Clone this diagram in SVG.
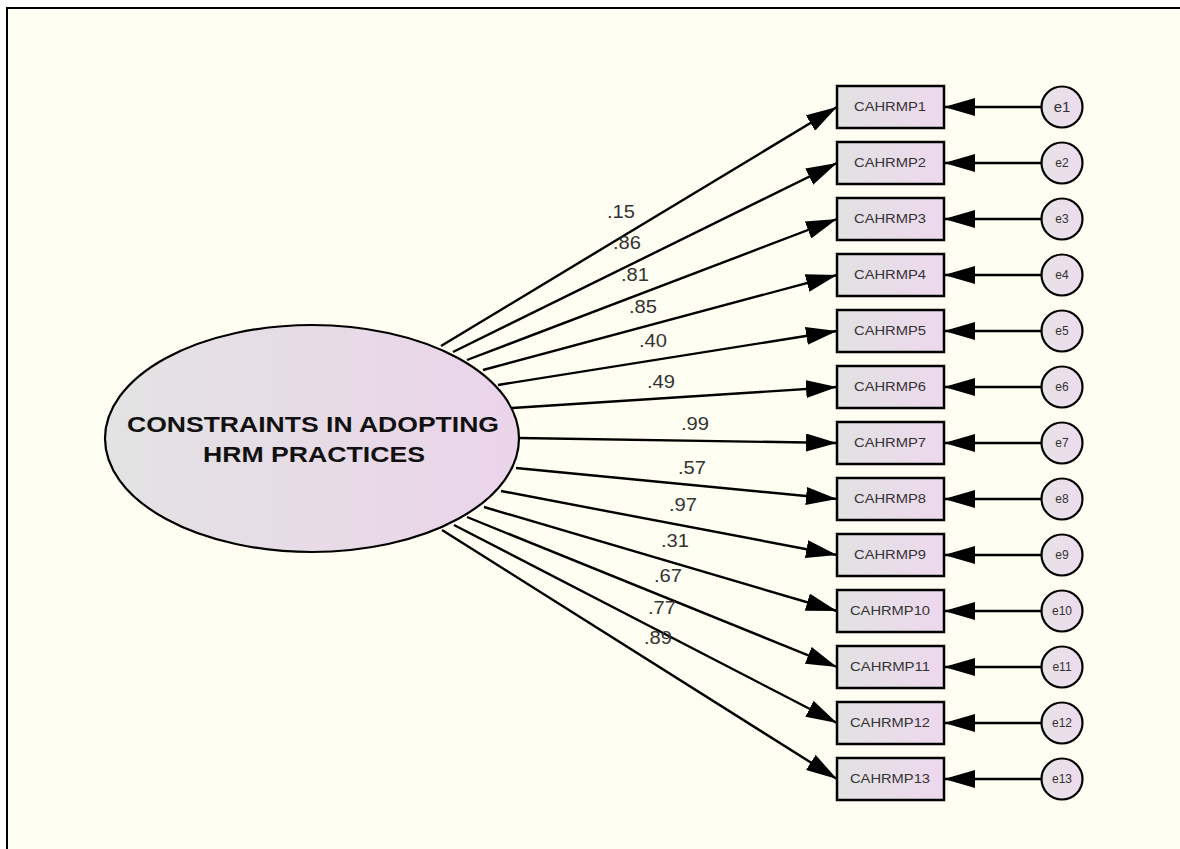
<svg xmlns="http://www.w3.org/2000/svg" width="1180" height="849" viewBox="0 0 1180 849">
<defs>
<linearGradient id="gEl" x1="0" y1="0" x2="1" y2="0">
<stop offset="0" stop-color="#e3e3e3"/><stop offset="1" stop-color="#ebd4ea"/>
</linearGradient>
<linearGradient id="gBox" x1="0" y1="0" x2="1" y2="0">
<stop offset="0" stop-color="#e2e2e2"/><stop offset="1" stop-color="#eed8ee"/>
</linearGradient>
<linearGradient id="gCir" x1="0" y1="0" x2="1" y2="0">
<stop offset="0" stop-color="#e6e2e6"/><stop offset="1" stop-color="#eedcee"/>
</linearGradient>
<marker id="ah" markerUnits="userSpaceOnUse" markerWidth="32" markerHeight="18" viewBox="0 0 32 18" refX="31" refY="9" orient="auto">
<path d="M0,0 L31,9 L0,18 Z" fill="#000"/>
</marker>
<style>
.c{stroke:#000;stroke-width:2.4;fill:none;marker-end:url(#ah)}
.box{fill:url(#gBox);stroke:#000;stroke-width:2.5}
.cir{fill:url(#gCir);stroke:#000;stroke-width:2.2}
.bt{font-family:"Liberation Sans",Arial,sans-serif;font-size:12px;fill:#333;text-anchor:middle}
.et{font-family:"Liberation Sans",Arial,sans-serif;font-size:12px;fill:#333;text-anchor:middle}
.lb{font-family:"Liberation Sans",Arial,sans-serif;font-size:18px;fill:#333}
.big{font-family:"Liberation Sans",Arial,sans-serif;font-size:22px;font-weight:bold;fill:#111;text-anchor:middle}
</style>
</defs>
<rect x="0" y="0" width="1180" height="849" fill="#fff"/>
<rect x="7" y="8" width="1173" height="841" fill="#fffef2"/>
<path d="M7,849 V8 H1180" fill="none" stroke="#000" stroke-width="2"/>
<g id="connectors">
<line class="c" x1="441" y1="346" x2="837" y2="107"/>
<line class="c" x1="453" y1="352" x2="837" y2="163"/>
<line class="c" x1="467" y1="360" x2="837" y2="219"/>
<line class="c" x1="483" y1="370" x2="837" y2="275"/>
<line class="c" x1="498" y1="385" x2="837" y2="331"/>
<line class="c" x1="512" y1="408" x2="837" y2="387"/>
<line class="c" x1="519" y1="438" x2="837" y2="443"/>
<line class="c" x1="516" y1="468" x2="837" y2="499"/>
<line class="c" x1="501" y1="491" x2="837" y2="555"/>
<line class="c" x1="484" y1="507" x2="837" y2="611"/>
<line class="c" x1="467" y1="517" x2="837" y2="667"/>
<line class="c" x1="454" y1="525" x2="837" y2="723"/>
<line class="c" x1="442" y1="530" x2="837" y2="779"/>
<line class="c" x1="1042" y1="107" x2="944" y2="107"/>
<line class="c" x1="1042" y1="163" x2="944" y2="163"/>
<line class="c" x1="1042" y1="219" x2="944" y2="219"/>
<line class="c" x1="1042" y1="275" x2="944" y2="275"/>
<line class="c" x1="1042" y1="331" x2="944" y2="331"/>
<line class="c" x1="1042" y1="387" x2="944" y2="387"/>
<line class="c" x1="1042" y1="443" x2="944" y2="443"/>
<line class="c" x1="1042" y1="499" x2="944" y2="499"/>
<line class="c" x1="1042" y1="555" x2="944" y2="555"/>
<line class="c" x1="1042" y1="611" x2="944" y2="611"/>
<line class="c" x1="1042" y1="667" x2="944" y2="667"/>
<line class="c" x1="1042" y1="723" x2="944" y2="723"/>
<line class="c" x1="1042" y1="779" x2="944" y2="779"/>
<text class="lb" x="607" y="218" textLength="28" lengthAdjust="spacingAndGlyphs">.15</text>
<text class="lb" x="613" y="249" textLength="28" lengthAdjust="spacingAndGlyphs">.86</text>
<text class="lb" x="621" y="281" textLength="28" lengthAdjust="spacingAndGlyphs">.81</text>
<text class="lb" x="629" y="313" textLength="28" lengthAdjust="spacingAndGlyphs">.85</text>
<text class="lb" x="639" y="347" textLength="28" lengthAdjust="spacingAndGlyphs">.40</text>
<text class="lb" x="647" y="388" textLength="28" lengthAdjust="spacingAndGlyphs">.49</text>
<text class="lb" x="681" y="430" textLength="28" lengthAdjust="spacingAndGlyphs">.99</text>
<text class="lb" x="678" y="474" textLength="28" lengthAdjust="spacingAndGlyphs">.57</text>
<text class="lb" x="669" y="511" textLength="28" lengthAdjust="spacingAndGlyphs">.97</text>
<text class="lb" x="661" y="547" textLength="28" lengthAdjust="spacingAndGlyphs">.31</text>
<text class="lb" x="654" y="582" textLength="28" lengthAdjust="spacingAndGlyphs">.67</text>
<text class="lb" x="648" y="614" textLength="28" lengthAdjust="spacingAndGlyphs">.77</text>
<text class="lb" x="644" y="644" textLength="28" lengthAdjust="spacingAndGlyphs">.89</text>
</g>
<g id="latent">
<ellipse cx="312" cy="438.5" rx="207" ry="113.5" fill="url(#gEl)" stroke="#000" stroke-width="2.2"/>
<text class="big" x="313" y="432" textLength="372" lengthAdjust="spacingAndGlyphs">CONSTRAINTS IN ADOPTING</text>
<text class="big" x="314" y="462" textLength="222" lengthAdjust="spacingAndGlyphs">HRM PRACTICES</text>
</g>
<g id="CAHRMP1"><rect class="box" x="837" y="86" width="107" height="42"/><text class="bt" x="890" y="111" textLength="72" lengthAdjust="spacingAndGlyphs">CAHRMP1</text></g>
<g id="CAHRMP2"><rect class="box" x="837" y="142" width="107" height="42"/><text class="bt" x="890" y="167" textLength="72" lengthAdjust="spacingAndGlyphs">CAHRMP2</text></g>
<g id="CAHRMP3"><rect class="box" x="837" y="198" width="107" height="42"/><text class="bt" x="890" y="223" textLength="72" lengthAdjust="spacingAndGlyphs">CAHRMP3</text></g>
<g id="CAHRMP4"><rect class="box" x="837" y="254" width="107" height="42"/><text class="bt" x="890" y="279" textLength="72" lengthAdjust="spacingAndGlyphs">CAHRMP4</text></g>
<g id="CAHRMP5"><rect class="box" x="837" y="310" width="107" height="42"/><text class="bt" x="890" y="335" textLength="72" lengthAdjust="spacingAndGlyphs">CAHRMP5</text></g>
<g id="CAHRMP6"><rect class="box" x="837" y="366" width="107" height="42"/><text class="bt" x="890" y="391" textLength="72" lengthAdjust="spacingAndGlyphs">CAHRMP6</text></g>
<g id="CAHRMP7"><rect class="box" x="837" y="422" width="107" height="42"/><text class="bt" x="890" y="447" textLength="72" lengthAdjust="spacingAndGlyphs">CAHRMP7</text></g>
<g id="CAHRMP8"><rect class="box" x="837" y="478" width="107" height="42"/><text class="bt" x="890" y="503" textLength="72" lengthAdjust="spacingAndGlyphs">CAHRMP8</text></g>
<g id="CAHRMP9"><rect class="box" x="837" y="534" width="107" height="42"/><text class="bt" x="890" y="559" textLength="72" lengthAdjust="spacingAndGlyphs">CAHRMP9</text></g>
<g id="CAHRMP10"><rect class="box" x="837" y="590" width="107" height="42"/><text class="bt" x="890" y="615" textLength="80" lengthAdjust="spacingAndGlyphs">CAHRMP10</text></g>
<g id="CAHRMP11"><rect class="box" x="837" y="646" width="107" height="42"/><text class="bt" x="890" y="671" textLength="80" lengthAdjust="spacingAndGlyphs">CAHRMP11</text></g>
<g id="CAHRMP12"><rect class="box" x="837" y="702" width="107" height="42"/><text class="bt" x="890" y="727" textLength="80" lengthAdjust="spacingAndGlyphs">CAHRMP12</text></g>
<g id="CAHRMP13"><rect class="box" x="837" y="758" width="107" height="42"/><text class="bt" x="890" y="783" textLength="80" lengthAdjust="spacingAndGlyphs">CAHRMP13</text></g>
<g id="e1"><circle class="cir" cx="1062" cy="107" r="20.5"/><text class="et" x="1062" y="112" style="font-size:15px">e1</text></g>
<g id="e2"><circle class="cir" cx="1062" cy="163" r="20.5"/><text class="et" x="1062" y="167">e2</text></g>
<g id="e3"><circle class="cir" cx="1062" cy="219" r="20.5"/><text class="et" x="1062" y="223">e3</text></g>
<g id="e4"><circle class="cir" cx="1062" cy="275" r="20.5"/><text class="et" x="1062" y="279">e4</text></g>
<g id="e5"><circle class="cir" cx="1062" cy="331" r="20.5"/><text class="et" x="1062" y="335">e5</text></g>
<g id="e6"><circle class="cir" cx="1062" cy="387" r="20.5"/><text class="et" x="1062" y="391">e6</text></g>
<g id="e7"><circle class="cir" cx="1062" cy="443" r="20.5"/><text class="et" x="1062" y="447">e7</text></g>
<g id="e8"><circle class="cir" cx="1062" cy="499" r="20.5"/><text class="et" x="1062" y="503">e8</text></g>
<g id="e9"><circle class="cir" cx="1062" cy="555" r="20.5"/><text class="et" x="1062" y="559">e9</text></g>
<g id="e10"><circle class="cir" cx="1062" cy="611" r="20.5"/><text class="et" x="1062" y="615">e10</text></g>
<g id="e11"><circle class="cir" cx="1062" cy="667" r="20.5"/><text class="et" x="1062" y="671">e11</text></g>
<g id="e12"><circle class="cir" cx="1062" cy="723" r="20.5"/><text class="et" x="1062" y="727">e12</text></g>
<g id="e13"><circle class="cir" cx="1062" cy="779" r="20.5"/><text class="et" x="1062" y="783">e13</text></g>
</svg>
